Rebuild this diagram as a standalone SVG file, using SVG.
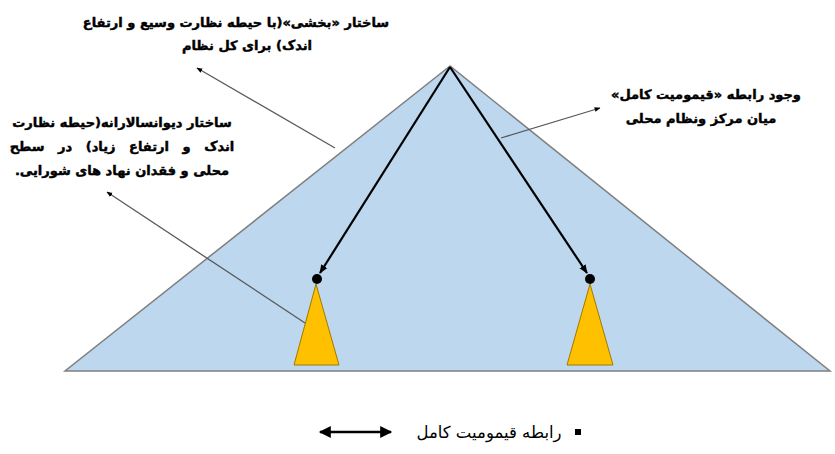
<svg xmlns="http://www.w3.org/2000/svg" width="835" height="454" viewBox="0 0 835 454">
<defs>
<style>
.t{font-family:"DejaVu Sans","Noto Sans",sans-serif;font-weight:bold;font-size:13px;fill:#000;stroke:#000;stroke-width:0.45;}
.lg{font-family:"DejaVu Sans","Noto Sans",sans-serif;font-size:16.5px;fill:#000;}
.lead{stroke:#595959;stroke-width:1.3;fill:none;}
.arr{stroke:#000;stroke-width:2.2;fill:none;}
</style>
<marker id="sm" viewBox="0 0 10 10" refX="9" refY="5" markerWidth="6" markerHeight="6" orient="auto" markerUnits="userSpaceOnUse">
<path d="M0,1 L10,5 L0,9 z" fill="#000"/>
</marker>
<marker id="bk" viewBox="0 0 10 10" refX="9" refY="5" markerWidth="9" markerHeight="9" orient="auto" markerUnits="userSpaceOnUse">
<path d="M0,1 L10,5 L0,9 z" fill="#000"/>
</marker>
<marker id="lg" viewBox="0 0 10 10" refX="9" refY="5" markerWidth="14" markerHeight="12" orient="auto-start-reverse" markerUnits="userSpaceOnUse">
<path d="M0,0 L10,5 L0,10 z" fill="#000"/>
</marker>
</defs>
<rect width="835" height="454" fill="#fff"/>
<g id="pyramid">
<polygon points="450,66 65,371 830,371" fill="#bdd7ee" stroke="#7f7f7f" stroke-width="1.5"/>
</g>
<g id="local-left">
<polygon points="316,284 294,365 339,365" fill="#ffc000" stroke="#a07a00" stroke-width="1"/>
<circle cx="317" cy="279" r="5" fill="#000"/>
</g>
<g id="local-right">
<polygon points="590,284 567,365 613,365" fill="#ffc000" stroke="#a07a00" stroke-width="1"/>
<circle cx="590" cy="279" r="5" fill="#000"/>
</g>
<g id="connectors">
<line class="arr" x1="450" y1="67" x2="320" y2="273" marker-end="url(#bk)"/>
<line class="arr" x1="450" y1="67" x2="587" y2="273" marker-end="url(#bk)"/>
<line class="lead" x1="335" y1="148" x2="197" y2="68" marker-end="url(#sm)"/>
<line class="lead" x1="305" y1="323" x2="107" y2="192" marker-end="url(#sm)"/>
<line class="lead" x1="501" y1="138" x2="600" y2="108" marker-end="url(#sm)"/>
</g>
<g id="label-top">
<text class="t" x="236" y="27" text-anchor="middle" direction="rtl">ساختار «بخشی»(با حیطه نظارت وسیع و ارتفاع</text>
<text class="t" x="247" y="50" text-anchor="middle" direction="rtl">اندک) برای کل نظام</text>
</g>
<g id="label-left">
<text class="t" x="122" y="127" text-anchor="middle" direction="rtl">ساختار دیوانسالارانه(حیطه نظارت</text>
<text class="t" x="122" y="151" text-anchor="middle" direction="rtl" word-spacing="9">اندک و ارتفاع زیاد) در سطح</text>
<text class="t" x="122" y="175" text-anchor="middle" direction="rtl">محلی و فقدان نهاد های شورایی.</text>
</g>
<g id="label-right">
<text class="t" x="706" y="99" text-anchor="middle" direction="rtl">وجود رابطه «قیمومیت کامل»</text>
<text class="t" x="701" y="123" text-anchor="middle" direction="rtl">میان مرکز ونظام محلی</text>
</g>
<g id="legend">
<rect x="575" y="429" width="6" height="6" fill="#000"/>
<text class="lg" x="489" y="438" text-anchor="middle" direction="rtl">رابطه قیمومیت کامل</text>
<line x1="320" y1="432" x2="391" y2="432" stroke="#000" stroke-width="2.5" marker-start="url(#lg)" marker-end="url(#lg)"/>
</g>
</svg>
